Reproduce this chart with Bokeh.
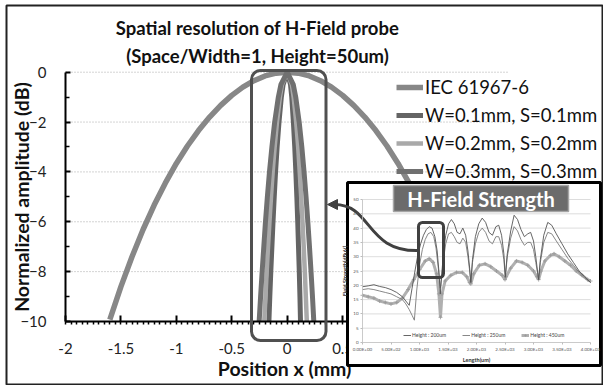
from bokeh.plotting import figure
from bokeh.models import (Range1d, LinearAxis, FixedTicker, BoxAnnotation, Label,
                          Legend, LegendItem, Arrow, NormalHead)
from bokeh.core.properties import value
from bokeh.embed import file_html
from bokeh.resources import INLINE

# ---------------- data ----------------
title_line1 = "Spatial resolution of H-Field probe"
title_line2 = "(Space/Width=1, Height=50um)"
x_label = "Position  x (mm)"
y_label = "Normalized amplitude (dB)"

x_ticks = [-2, -1.5, -1, -0.5, 0, 0.5, 1, 1.5, 2]
x_tick_labels = ["-2", "-1.5", "-1", "-0.5", "0", "0.5", "1", "1.5", "2"]
y_ticks = [0, -2, -4, -6, -8, -10]
y_minor = [-1, -3, -5, -7, -9]
grid_y = [0, -2, -4, -6, -8]

series_names = ["IEC 61967-6", "W=0.1mm, S=0.1mm", "W=0.2mm, S=0.2mm", "W=0.3mm, S=0.3mm"]

iec_x = [-1.6, -1.5, -1.4, -1.3, -1.2, -1.1, -1.0, -0.9, -0.8, -0.7, -0.6, -0.5, -0.4, -0.3, -0.2, -0.1, 0.0,
         0.1, 0.2, 0.3, 0.4, 0.5, 0.6, 0.7, 0.8, 0.9, 1.0, 1.1, 1.2, 1.3, 1.4, 1.5, 1.6]
iec_y = [-9.92, -8.60, -7.40, -6.31, -5.33, -4.45, -3.66, -2.96, -2.34, -1.80, -1.33, -0.93, -0.60, -0.34,
         -0.15, -0.04, 0.0,
         -0.04, -0.15, -0.34, -0.60, -0.93, -1.33, -1.80, -2.34, -2.96, -3.66, -4.45, -5.33, -6.31, -7.40,
         -8.60, -9.92]

narrow_y = [-10, -9, -8, -7, -6, -5, -4, -3, -2, -1, -0.5, 0, -0.5, -1, -2, -3, -4, -5, -6, -7, -8, -9, -10]
w01_x = [-0.165, -0.157, -0.148, -0.138, -0.128, -0.117, -0.105, -0.091, -0.074, -0.053, -0.037, 0.0,
         0.030, 0.041, 0.056, 0.068, 0.078, 0.087, 0.095, 0.102, 0.109, 0.115, 0.120]
w02_x = [-0.207, -0.196, -0.185, -0.173, -0.160, -0.146, -0.131, -0.113, -0.092, -0.066, -0.047, 0.0,
         0.042, 0.058, 0.081, 0.099, 0.113, 0.126, 0.138, 0.149, 0.159, 0.168, 0.177]
w03_x = [-0.253, -0.240, -0.226, -0.211, -0.196, -0.179, -0.160, -0.138, -0.113, -0.080, -0.057, 0.0,
         0.055, 0.077, 0.108, 0.132, 0.152, 0.170, 0.186, 0.201, 0.215, 0.228, 0.240]

# inset chart (H-Field Strength)
inset_title = "H-Field Strength"
inset_x_label = "Length(um)"
inset_y_label = "Field Strength(dBuV)"
inset_x_ticks = [0, 500, 1000, 1500, 2000, 2500, 3000, 3500, 4000]
inset_x_tick_labels = ["0.00E+00", "5.00E+02", "1.00E+03", "1.50E+03", "2.00E+03",
                       "2.50E+03", "3.00E+03", "3.50E+03", "4.00E+03"]
inset_y_ticks = [0, 5, 10, 15, 20, 25, 30, 35, 40, 45, 50]
inset_names = ["Height : 200um", "Height : 250um", "Height : 450um"]

h200_x = [0, 100, 200, 300, 400, 500, 600, 700, 760, 820, 870, 920, 970, 1020, 1070, 1120, 1170, 1220, 1270,
          1310, 1340, 1365, 1390, 1420, 1460, 1510, 1560, 1610, 1660, 1710, 1760, 1810, 1850, 1880, 1900,
          1930, 1980, 2040, 2100, 2160, 2220, 2280, 2340, 2390, 2440, 2480, 2505, 2540, 2600, 2660, 2720,
          2780, 2840, 2900, 2950, 3000, 3040, 3070, 3090, 3120, 3180, 3250, 3320, 3400, 3500, 3600, 3700,
          3800, 3900, 4000]
h200_y = [19.5, 19.8, 20.2, 19.6, 19.2, 18.5, 17.5, 16.0, 14.5, 13.0, 19.0, 25.0, 30.5, 34.5, 37.5, 39.5,
          40.5, 40.0, 37.0, 32.0, 25.0, 17.0, 24.0, 31.0, 37.5, 41.5, 43.0, 41.5, 38.5, 38.0, 40.0, 37.5,
          32.0, 26.0, 21.0, 29.0, 37.0, 41.5, 43.5, 42.0, 38.5, 37.5, 40.5, 41.0, 37.5, 31.0, 23.0, 31.0,
          39.0, 44.5, 43.0, 39.5, 37.0, 38.0, 38.5, 35.5, 30.0, 25.0, 22.0, 29.0, 37.5, 42.0, 41.0, 38.0,
          34.5, 31.0, 28.0, 25.0, 23.0, 21.0]
h250_x = [0, 100, 200, 300, 400, 500, 600, 700, 760, 820, 870, 910, 950, 1000, 1050, 1100, 1150, 1200, 1250,
          1290, 1330, 1365, 1390, 1420, 1460, 1510, 1560, 1610, 1660, 1710, 1760, 1810, 1850, 1880, 1900,
          1930, 1980, 2040, 2100, 2160, 2220, 2280, 2340, 2390, 2440, 2480, 2505, 2540, 2600, 2660, 2720,
          2780, 2840, 2900, 2950, 3000, 3040, 3070, 3090, 3120, 3180, 3250, 3320, 3400, 3500, 3600, 3700,
          3800, 3900, 4000]
h250_y = [18.5, 18.8, 18.5, 18.0, 17.5, 17.0, 16.0, 15.0, 13.5, 11.5, 9.5, 7.8, 18.0, 27.0, 32.5, 36.0,
          38.0, 38.5, 37.0, 33.0, 26.0, 19.0, 23.0, 29.0, 34.5, 38.0, 38.5, 37.0, 35.0, 34.5, 36.5, 35.0,
          30.0, 25.0, 21.0, 28.0, 34.5, 38.5, 40.0, 38.5, 35.5, 34.5, 37.0, 37.0, 34.0, 29.0, 22.5, 30.0,
          36.5, 40.5, 39.0, 36.0, 34.0, 35.0, 35.0, 32.5, 28.0, 24.5, 22.0, 28.0, 35.0, 38.5, 38.0, 35.5,
          32.5, 29.5, 27.0, 24.5, 22.5, 21.0]
h450_x = [0, 100, 200, 300, 400, 500, 600, 700, 800, 900, 1000, 1100, 1170, 1240, 1300, 1340, 1368, 1395,
          1450, 1550, 1650, 1750, 1830, 1880, 1900, 1950, 2050, 2150, 2250, 2350, 2450, 2500, 2520, 2600,
          2700, 2800, 2900, 3000, 3060, 3090, 3130, 3200, 3300, 3360, 3450, 3550, 3650, 3750, 3850, 3950, 4000]
h450_y = [16.5, 16.0, 15.5, 14.5, 14.0, 13.5, 14.0, 15.5, 18.5, 22.0, 25.5, 28.5, 29.3, 28.0, 24.0, 17.0,
          8.8, 17.0, 21.5, 23.5, 24.5, 24.5, 23.0, 21.0, 20.5, 24.0, 27.0, 27.5, 26.5, 25.0, 23.5, 22.0,
          23.0, 26.0, 28.5, 28.0, 27.0, 25.0, 23.0, 22.0, 25.0, 28.5, 30.5, 31.0, 30.0, 28.5, 27.0, 25.0,
          23.5, 22.0, 21.5]

# ---------------- layout (pixels) ----------------
W, H = 603, 385
FL, FR, FT, FB = 6, 602, 5, 384          # frame = outer border
X0, SX = 286.7, 110.85                   # main x: px of 0, px per mm
Y0, SY = 71.7, 24.93                     # main y: px of 0 dB, px per dB
IX0, ISX = 362.0, 0.057                  # inset x
IY0, ISY = 342.0, 2.86                   # inset y

def mx(px): return (px - X0) / SX
def my(py): return (Y0 - py) / SY
def ix(px): return (px - IX0) / ISX
def iy(py): return (IY0 - py) / ISY

FONT = "Lato"

p = figure(width=W, height=H, output_backend="svg", toolbar_location=None,
           x_range=Range1d(mx(FL), mx(FR)), y_range=Range1d(my(FB), my(FT)),
           x_axis_type=None, y_axis_type=None,
           min_border_left=FL, min_border_top=FT, min_border_right=W - FR, min_border_bottom=H - FB)
p.extra_x_ranges = {"ix": Range1d(ix(FL), ix(FR))}
p.extra_y_ranges = {"iy": Range1d(iy(FB), iy(FT))}
p.outline_line_color = "#222222"
p.outline_line_width = 2
p.background_fill_color = "white"
p.border_fill_color = "white"

# main gridlines
p.segment(x0=[x_ticks[0]] * len(grid_y), x1=[x_ticks[-1]] * len(grid_y), y0=grid_y, y1=grid_y,
          line_color="#a8a8a8", line_width=1, line_dash="1 2", level="underlay")

# main curves
cols = ["#878787", "#646464", "#a9a9a9", "#707070"]
r_iec = p.line(iec_x, iec_y, line_color=cols[0], line_width=5.5, line_join="round")
r1 = p.line(w01_x, narrow_y, line_color=cols[1], line_width=5, line_join="round")
r2 = p.line(w02_x, narrow_y, line_color=cols[2], line_width=4.5, line_join="round")
r3 = p.line(w03_x, narrow_y, line_color=cols[3], line_width=5, line_join="round")

# main axes
minor_x = [round(x_ticks[0] + 0.05 * i, 2) for i in range(81)]
xax = LinearAxis(fixed_location=y_ticks[-1], bounds=(x_ticks[0], x_ticks[-1]),
                 ticker=FixedTicker(ticks=x_ticks, minor_ticks=minor_x),
                 major_label_overrides={float(k): v for k, v in zip(x_ticks, x_tick_labels)},
                 axis_label=x_label)
yax = LinearAxis(fixed_location=x_ticks[0], bounds=(y_ticks[-1], y_ticks[0]),
                 ticker=FixedTicker(ticks=y_ticks, minor_ticks=y_minor), axis_label=y_label)
for ax in (xax, yax):
    ax.axis_line_color = "black"
    ax.axis_line_width = 2
    ax.major_tick_line_color = "black"
    ax.major_tick_line_width = 2
    ax.minor_tick_line_color = "black"
    ax.minor_tick_line_width = 1.5
    ax.major_tick_out = 0
    ax.major_label_text_font = FONT
    ax.major_label_text_font_size = "15px"
    ax.major_label_text_color = "#222222"
    ax.axis_label_text_font = FONT
    ax.axis_label_text_font_size = "19.5px"
    ax.axis_label_text_font_style = "bold"
    ax.axis_label_text_color = "#111111"
xax.major_tick_in = 6
xax.minor_tick_in = 0
xax.minor_tick_out = 3
xax.major_label_standoff = 18
xax.axis_label_standoff = 0
yax.major_tick_in = 5
yax.minor_tick_in = 4
yax.minor_tick_out = 0
yax.major_label_standoff = 19
yax.axis_label_standoff = -16
p.add_layout(xax, "below")
p.add_layout(yax, "left")

# highlight box around the narrow beams
p.add_layout(BoxAnnotation(left=mx(251), right=mx(325.5), top=my(70), bottom=my(340),
                           fill_alpha=0, line_color="#505050", line_alpha=1, line_width=3, border_radius=9))

# title
for txt, py in ((title_line1, 27), (title_line2, 55)):
    p.add_layout(Label(x=mx(257), y=my(py), text=txt, text_align="center", text_baseline="middle",
                       text_font=FONT, text_font_size="18.5px", text_font_style="bold", text_color="#111111"))

# main legend
leg = Legend(items=[LegendItem(label=n, renderers=[r]) for n, r in zip(series_names, [r_iec, r1, r2, r3])],
             location=(396 - FL, FB - 182), orientation="vertical",
             background_fill_alpha=0, border_line_alpha=0, padding=0, margin=0,
             glyph_width=27, glyph_height=20, label_height=20, spacing=6, label_standoff=2,
             label_text_font=FONT, label_text_font_size="18.5px", label_text_color="#111111")
p.add_layout(leg)

# ---------------- inset ----------------
p.add_layout(BoxAnnotation(left=mx(347), right=mx(600), top=my(182), bottom=my(365),
                           fill_color="white", fill_alpha=1, line_color="black", line_alpha=1,
                           line_width=3, level="annotation"))
gy = inset_y_ticks[1:]
p.segment(x0=[inset_x_ticks[0]] * len(gy), x1=[inset_x_ticks[-1]] * len(gy), y0=gy, y1=gy,
          x_range_name="ix", y_range_name="iy", line_color="#d4d4d4", line_width=0.8, level="overlay")
ri450 = p.line(h450_x, h450_y, x_range_name="ix", y_range_name="iy", line_color="#b0b0b0",
               line_width=3, level="overlay")
ri450m = p.scatter(h450_x, h450_y, x_range_name="ix", y_range_name="iy", marker="cross", size=4,
                   line_color="#999999", line_width=0.8, level="overlay")
ri250 = p.line(h250_x, h250_y, x_range_name="ix", y_range_name="iy", line_color="#7a7a7a",
               line_width=0.9, level="overlay")
ri200 = p.line(h200_x, h200_y, x_range_name="ix", y_range_name="iy", line_color="#555555",
               line_width=0.9, level="overlay")

ixax = LinearAxis(x_range_name="ix", y_range_name="iy", fixed_location=inset_y_ticks[0],
                  bounds=(inset_x_ticks[0], inset_x_ticks[-1]), ticker=FixedTicker(ticks=inset_x_ticks),
                  major_label_overrides={k: v for k, v in zip(inset_x_ticks, inset_x_tick_labels)},
                  axis_label=inset_x_label, level="overlay")
iyax = LinearAxis(x_range_name="ix", y_range_name="iy", fixed_location=inset_x_ticks[0],
                  bounds=(inset_y_ticks[0], inset_y_ticks[-1]), ticker=FixedTicker(ticks=inset_y_ticks),
                  axis_label=inset_y_label, level="overlay")
for ax in (ixax, iyax):
    ax.axis_line_color = "#bdbdbd"
    ax.axis_line_width = 0.8
    ax.major_tick_line_color = "#bdbdbd"
    ax.major_tick_in = 0
    ax.major_tick_out = 2
    ax.minor_tick_line_color = None
    ax.major_label_text_font = FONT
    ax.major_label_text_font_size = "4.5px"
    ax.major_label_text_color = "#555555"
    ax.major_label_standoff = 2
    ax.axis_label_text_font = FONT
    ax.axis_label_text_font_size = "5.5px"
    ax.axis_label_text_font_style = "bold"
    ax.axis_label_text_color = "#333333"
    ax.axis_label_standoff = 2
p.add_layout(ixax, "below")
p.add_layout(iyax, "left")

ileg = Legend(items=[LegendItem(label=inset_names[0], renderers=[ri200]),
                     LegendItem(label=inset_names[1], renderers=[ri250]),
                     LegendItem(label=inset_names[2], renderers=[ri450, ri450m])],
              location=(403 - FL, FB - 338), orientation="horizontal",
              background_fill_alpha=0, border_line_alpha=0, padding=0, margin=0,
              glyph_width=8, glyph_height=6, label_height=6, spacing=16, label_standoff=1,
              label_text_font=FONT, label_text_font_size="5px", label_text_color="#444444",
              level="overlay")
p.add_layout(ileg)

# inset title box
p.add_layout(BoxAnnotation(left=ix(393), right=ix(568), top=iy(185), bottom=iy(211),
                           x_range_name="ix", y_range_name="iy", fill_color="#6b6b6b", fill_alpha=1,
                           line_color="#a5a5a5", line_alpha=1, line_width=1.5, level="overlay"))
p.add_layout(Label(x=ix(480.5), y=iy(198.5), x_range_name="ix", y_range_name="iy", text=inset_title,
                   text_align="center", text_baseline="middle", text_font=FONT, text_font_size="20px",
                   text_font_style="bold", text_color="white", level="overlay"))

# highlight in inset + curved arrow to main box
p.add_layout(BoxAnnotation(left=ix(418), right=ix(443), top=iy(222), bottom=iy(277),
                           x_range_name="ix", y_range_name="iy", fill_alpha=0,
                           line_color="#404040", line_alpha=1, line_width=3, border_radius=4,
                           level="overlay"))
p.bezier(x0=[mx(419)], y0=[my(250)], x1=[mx(334)], y1=[my(204)],
         cx0=[mx(365)], cy0=[my(252)], cx1=[mx(372)], cy1=[my(204)],
         line_color="#404040", line_width=3, level="overlay")
p.add_layout(Arrow(end=NormalHead(size=10, fill_color="#404040", line_color="#404040"),
                   x_start=mx(337), y_start=my(204), x_end=mx(327), y_end=my(204),
                   line_color="#404040", line_width=3, level="overlay"))

open("out.html", "w").write(file_html(p, INLINE))
